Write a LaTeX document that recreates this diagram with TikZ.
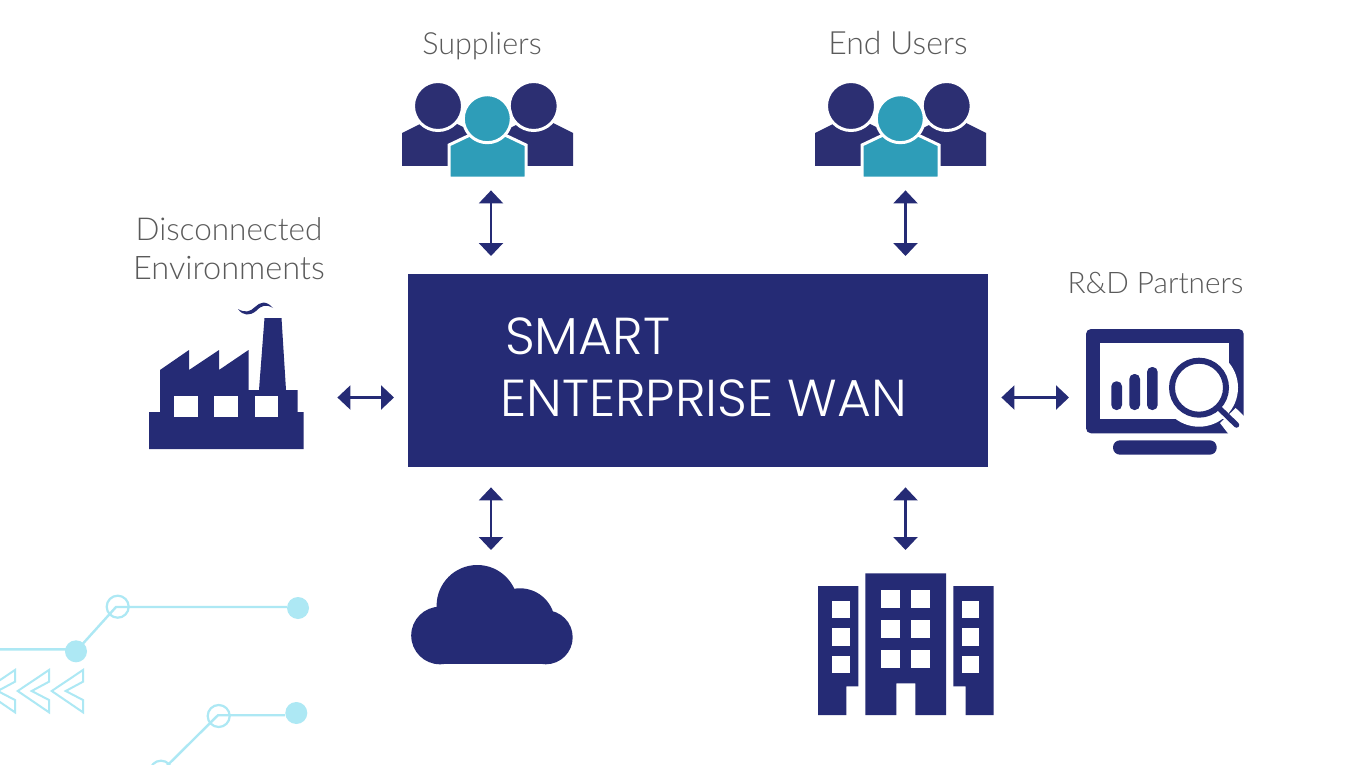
\documentclass[tikz,border=0pt]{standalone}
\usepackage{fontspec}
\setmainfont{Lato Light}
\newfontfamily\titlefont{Poppins Light}
\usetikzlibrary{arrows.meta,calc}
\definecolor{navy}{HTML}{252B75}
\definecolor{navyb}{HTML}{2C2F72}
\definecolor{teal}{HTML}{2E9DB8}
\definecolor{sky}{HTML}{ADE8F4}
\definecolor{lab}{HTML}{5A5A5A}
\tikzset{
 lbl/.style={text=lab,align=center,inner sep=0pt,anchor=base},
 ttl/.style={text=white,font=\titlefont\fontsize{52}{52}\selectfont,inner sep=0pt,anchor=base west},
 dbl/.style={draw=navy,line width=2.2pt,{Triangle[width=24pt,length=13pt]}-{Triangle[width=24pt,length=13pt]}},
 hole/.style={fill=white,draw=none},
 deco/.style={draw=sky,line width=2.4pt},
 decofill/.style={fill=sky,draw=none,circle,minimum size=22pt,inner sep=0pt},
 decoopen/.style={fill=none,draw=sky,line width=2.2pt,circle,minimum size=22pt,inner sep=0pt},
 chev/.style={draw=sky,line width=2pt,fill=none,miter limit=10},
 iconbox/.style={draw=none,fill=none,inner sep=0pt,rectangle,anchor=north west},
}
\newcommand{\people}[2]{%
 \begin{scope}[shift={(#1,#2)}]
  \fill[navyb] (402,166)--(402,133)--(422,123)--(455,123)--(475,133)--(475,166)--cycle;
  \fill[navyb] (573,166)--(573,133)--(553,123)--(520,123)--(500,133)--(500,166)--cycle;
  \filldraw[navyb,draw=white,line width=3pt] (438,106) circle (24.5pt);
  \filldraw[navyb,draw=white,line width=3pt] (533.7,106) circle (24.5pt);
  \filldraw[teal,draw=white,line width=3pt,miter limit=10] (449,178)--(449,145)--(469,135.5)--(506,135.5)--(526,145)--(526,178)--cycle;
  \filldraw[teal,draw=white,line width=3pt] (487.3,118.7) circle (24pt);
 \end{scope}}
\begin{document}
\begin{tikzpicture}[x=1pt,y=-1pt]
\useasboundingbox (0,0) rectangle (1371,765);
\fill[white] (0,0) rectangle (1371,765);
% decorative circuit
\begin{scope}
\clip (0,0) rectangle (1371,765);
\node[decofill] (d1) at (76,651.3) {};
\node[decoopen] (d2) at (117.7,606.7) {};
\node[decofill] (d3) at (298,608) {};
\node[decoopen] (d4) at (218.7,716) {};
\node[decofill] (d5) at (296.3,713) {};
\node[decoopen] (d6) at (161,771.7) {};
\coordinate (d0) at (0,649.3);
\coordinate (k1) at (116,607);
\coordinate (k2) at (218,715.2);
\draw[deco] (d0) -- (d0 -| d1.center) -- (d1.center) -- (k1) -- (k1 -| d3.west);
\draw[deco] (d6.center) -- (k2) -- (k2 -| d5.west);
\foreach \dx in {0,-34,-68}{
 \draw[chev,shift={(\dx,0)}] (83,670)--(51.7,691)--(83,712.3)--(83,700)--(65.7,691)--(83,681.7)--cycle;
}
\end{scope}
% main box
\node[fill=navy,draw=none,minimum width=580pt,minimum height=193pt,inner sep=0pt,anchor=north west] (main) at (408,274) {};
\node[ttl] (t1) at (505,354) {SMART};
\node[ttl] (t2) at (500,416) {ENTERPRISE WAN};
% labels
\node[lbl,font=\fontsize{30.5}{30.5}\selectfont] (lsup) at (482,55) {Suppliers};
\node[lbl,font=\fontsize{32}{32}\selectfont] (lend) at (898,55) {End Users};
\node[lbl,font=\fontsize{31.5}{31.5}\selectfont] (ldis) at (229,240) {Disconnected};
\node[lbl,font=\fontsize{32.5}{32.5}\selectfont] (lenv) at (229,279) {Environments};
\node[lbl,font=\fontsize{29.7}{29.7}\selectfont] (lrd) at (1155.5,293) {R\&D Partners};
% people
\people{0}{0}
\people{413}{0}
% factory
\fill[navy] (149,449)--(149,412)--(160,412)--(160,370)--(189,350)--(189,370)--(219,350)--(219,370)--(248.5,350)--(248.5,390)--(259,390)--(264.5,318)--(281.5,318)--(286,390)--(297.5,390)--(297.5,412)--(303.7,412)--(303.7,449)--cycle;
\fill[hole] (174,396) rectangle (197.7,417.3);
\fill[hole] (214.3,396) rectangle (237.7,417.3);
\fill[hole] (255,396) rectangle (278.3,417.3);
\fill[navy] (238,309) .. controls (245,313) and (250,312) .. (255,307) .. controls (260,302) and (266,300) .. (273,308) .. controls (266,304) and (262,305) .. (256,311) .. controls (250,316) and (243,316) .. (238,309);
% monitor
\fill[navy,rounded corners=5pt] (1086,329) rectangle (1243.7,433.3);
\fill[hole] (1100.3,343.3) rectangle (1229.3,419);
\fill[navy,rounded corners=7pt] (1113,440.3) rectangle (1216.7,454.7);
\fill[navy,rounded corners=5pt] (1111.3,381.3) rectangle (1122,410);
\fill[navy,rounded corners=5pt] (1129.3,374) rectangle (1140,410);
\fill[navy,rounded corners=5pt] (1147,367) rectangle (1157.7,410);
\fill[hole] (1199,387.7) circle (39pt);
\fill[hole] (1235.7,408)--(1246,418)--(1246,436)--(1230,436)--(1220,423)--cycle;
\draw[navy,line width=6pt] (1199,387.7) circle (27pt);
\draw[navy,line width=5.5pt,line cap=round] (1220,409)--(1236.5,425);
% cloud
\fill[navy] (477.3,605.7) circle (40.7pt);
\fill[navy] (520,623.3) circle (35pt);
\fill[navy] (545.7,637.3) circle (27pt);
\fill[navy] (440,635.5) circle (28.8pt);
\fill[navy] (440,625) rectangle (545.7,664.3);
% building
\fill[navy] (818,586)--(858.3,586)--(858.3,686.3)--(846.3,686.3)--(846.3,715)--(818,715)--cycle;
\fill[navy] (865.3,573.3)--(946,573.3)--(946,715)--(915.3,715)--(915.3,683.3)--(896.3,683.3)--(896.3,715)--(865.3,715)--cycle;
\fill[navy] (953.3,586)--(993.7,586)--(993.7,715)--(965.7,715)--(965.7,686.3)--(953.3,686.3)--cycle;
\foreach \y/\h in {601/17.3,628.3/17.4,655.7/17}{
 \fill[hole] (832.3,\y) rectangle ++(17.4,\h);
 \fill[hole] (962,\y) rectangle ++(17,\h);
}
\foreach \y in {590,620,650}{
 \fill[hole] (881.3,\y) rectangle ++(18.7,18.3);
 \fill[hole] (911.3,\y) rectangle ++(18.7,18.3);
}
% icon anchors
\node[iconbox,minimum width=171pt,minimum height=95pt] (sup) at (402,83) {};
\node[iconbox,minimum width=171pt,minimum height=95pt] (usr) at (815,83) {};
\node[iconbox,minimum width=155pt,minimum height=141pt] (fac) at (149,308) {};
\node[iconbox,minimum width=158pt,minimum height=126pt] (mon) at (1086,329) {};
\node[iconbox,minimum width=161pt,minimum height=99pt] (cld) at (411.5,565) {};
\node[iconbox,minimum width=176pt,minimum height=142pt] (bld) at (818,573) {};
% connectors
\coordinate (xa) at (491,0);
\coordinate (xb) at (905.5,0);
\coordinate (ya) at (0,397.5);
\draw[dbl,shorten <=12pt,shorten >=18pt] (sup.south -| xa) -- (main.north -| xa);
\draw[dbl,shorten <=12pt,shorten >=18pt] (usr.south -| xb) -- (main.north -| xb);
\draw[dbl,shorten <=33pt,shorten >=14pt] (fac.east |- ya) -- (main.west |- ya);
\draw[dbl,shorten <=13pt,shorten >=17pt] (main.east |- ya) -- (mon.west |- ya);
\draw[dbl,shorten <=20pt,shorten >=15pt] (main.south -| xa) -- (cld.north -| xa);
\draw[dbl,shorten <=20pt,shorten >=23pt] (main.south -| xb) -- (bld.north -| xb);
\end{tikzpicture}
\end{document}
